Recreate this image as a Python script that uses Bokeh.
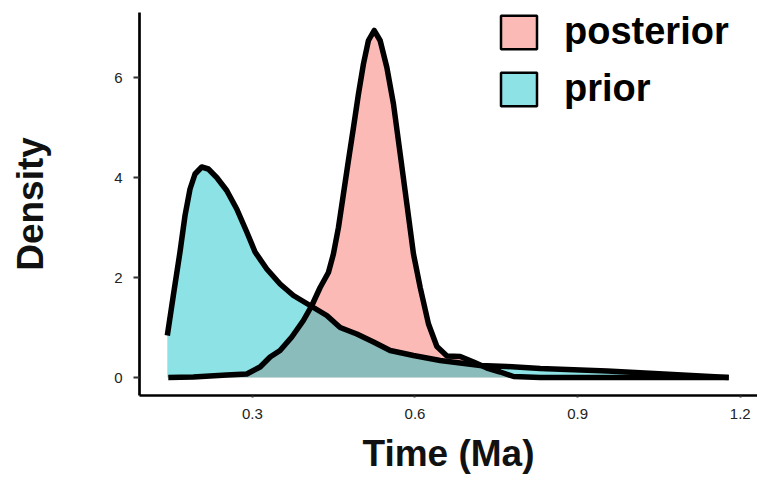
from bokeh.plotting import figure
from bokeh.models import Range1d, FixedTicker, Legend, LegendItem
from bokeh.embed import file_html
from bokeh.resources import INLINE

# Data
prior_x = [0.1431, 0.1542, 0.1665, 0.1758, 0.1850, 0.1942, 0.2066, 0.2188, 0.2343, 0.2527,
           0.2712, 0.2897, 0.3050, 0.3266, 0.3511, 0.3757, 0.4065, 0.4373, 0.4619, 0.4927,
           0.5234, 0.5542, 0.5972, 0.6465, 0.7204, 0.7696, 0.8311, 0.9543, 1.0587, 1.1787]
prior_y = [0.84, 1.64, 2.51, 3.24, 3.77, 4.07, 4.21, 4.17, 4.0, 3.74,
           3.37, 2.91, 2.51, 2.17, 1.87, 1.64, 1.44, 1.24, 1.0, 0.87,
           0.71, 0.54, 0.44, 0.34, 0.24, 0.22, 0.18, 0.13, 0.07, 0.0]

post_x = [0.1449, 0.1911, 0.2527, 0.2897, 0.3142, 0.3327, 0.3511, 0.3727, 0.3941, 0.4097,
          0.4250, 0.4403, 0.4495, 0.4588, 0.4680, 0.4772, 0.4865, 0.4957, 0.5049, 0.5141,
          0.5247, 0.5357, 0.5481, 0.5603, 0.5727, 0.5850, 0.5972, 0.6096, 0.6249, 0.6404,
          0.6589, 0.6834, 0.7080, 0.7327, 0.7573, 0.7818, 0.8311, 1.1787]
post_y = [0.0, 0.01, 0.05, 0.07, 0.21, 0.41, 0.54, 0.81, 1.14, 1.44,
          1.8, 2.1, 2.47, 3.0, 3.67, 4.34, 5.0, 5.67, 6.27, 6.74,
          6.94, 6.74, 6.2, 5.47, 4.47, 3.47, 2.47, 1.8, 1.07, 0.62,
          0.43, 0.42, 0.31, 0.19, 0.11, 0.02, 0.0, 0.0]

x_ticks = [0.3, 0.6, 0.9, 1.2]
y_ticks = [0, 2, 4, 6]
labels = ["posterior", "prior"]
fills = ["#F8766D", "#00BFC4"]

FONT = "Liberation Sans"
nan = float("nan")

p = figure(width=757, height=485, output_backend="svg", toolbar_location=None,
           x_range=Range1d(0.0918, 1.2318), y_range=Range1d(-0.36, 7.3),
           min_border_left=139, min_border_right=0, min_border_top=12,
           min_border_bottom=90)
p.outline_line_color = None
p.xgrid.visible = False
p.ygrid.visible = False
p.background_fill_color = "white"
p.border_fill_color = "white"

p.varea(x=post_x, y1=0, y2=post_y, fill_color=fills[0], fill_alpha=0.5)
p.varea(x=prior_x, y1=0, y2=prior_y, fill_color=fills[1], fill_alpha=0.45)
p.line(post_x, post_y, line_color="black", line_width=5.5, line_join="round")
p.line(prior_x, prior_y, line_color="black", line_width=5.5, line_join="round")

# legend-only renderers (nothing visible in the plot area)
r_post = p.quad(left=[nan], right=[nan], top=[nan], bottom=[nan], fill_color=fills[0],
                fill_alpha=0.5, line_color="black", line_width=2.5)
r_prior = p.quad(left=[nan], right=[nan], top=[nan], bottom=[nan], fill_color=fills[1],
                 fill_alpha=0.45, line_color="black", line_width=2.5)
legend = Legend(items=[LegendItem(label=labels[0], renderers=[r_post]),
                       LegendItem(label=labels[1], renderers=[r_prior])],
                location=(357, 285), orientation="vertical")
legend.glyph_width = 45
legend.glyph_height = 42
legend.label_height = 42
legend.spacing = 14
legend.padding = 0
legend.margin = 0
legend.label_standoff = 23
legend.border_line_color = None
legend.background_fill_alpha = 0
legend.label_text_font = FONT
legend.label_text_font_style = "bold"
legend.label_text_font_size = "38px"
legend.label_text_color = "black"
p.add_layout(legend, "center")

for ax in (p.xaxis[0], p.yaxis[0]):
    ax.axis_line_color = "black"
    ax.axis_line_width = 2.7
    ax.minor_tick_line_color = None
    ax.major_tick_in = 0
    ax.major_tick_line_color = "#333333"
    ax.major_tick_line_width = 2
    ax.major_label_text_font = FONT
    ax.major_label_text_font_size = "15px"
    ax.major_label_text_color = "#222222"
    ax.axis_label_text_font = FONT
    ax.axis_label_text_font_style = "bold"
    ax.axis_label_text_font_size = "37px"
    ax.axis_label_text_color = "#111111"

p.xaxis[0].ticker = FixedTicker(ticks=x_ticks)
p.yaxis[0].ticker = FixedTicker(ticks=y_ticks)
p.xaxis[0].major_tick_out = 2
p.yaxis[0].major_tick_out = 6
p.xaxis[0].major_label_standoff = 11
p.yaxis[0].major_label_standoff = 11
p.yaxis[0].major_label_orientation = "horizontal"
p.xaxis[0].axis_label = "Time (Ma)"
p.yaxis[0].axis_label = "Density"
p.xaxis[0].axis_label_standoff = 11
p.yaxis[0].axis_label_standoff = 60

open("out.html", "w").write(file_html(p, INLINE))
